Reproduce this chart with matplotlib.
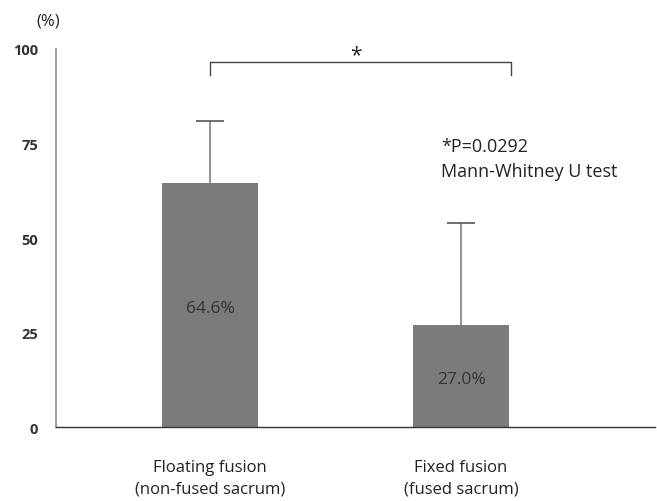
import numpy as np
import matplotlib.pyplot as plt

categories = ['Floating fusion\n(non-fused sacrum)', 'Fixed fusion\n(fused sacrum)']
means = [64.6, 27.0]
upper_sd = [16.4, 27.0]
bar_labels = ['64.6%', '27.0%']
yticks = [0, 25, 50, 75, 100]

plt.rcParams['font.family'] = ['Open Sans', 'DejaVu Sans']

fig = plt.figure(figsize=(6.57, 5.02), dpi=100)
ax = fig.add_axes([0.0852, 0.1474, 0.912, 0.7530])

x = np.arange(len(categories))
tops = np.array(means) + np.array(upper_sd)
ax.bar(x, means, width=0.38, color='#7b7b7d', zorder=2)
# upper-only error bars
ax.vlines(x, means, tops, color='#7f7f7f', lw=1.2, zorder=1)
ax.hlines(tops, x - 0.055, x + 0.055, color='#555555', lw=1.2, zorder=1)

for xi, m, lab in zip(x, means, bar_labels):
    ax.text(xi, m / 2 - 0.8, lab, ha='center', va='center', fontsize=12.5, color='#333333')

# significance bracket
ax.plot([0, 0, 1.2, 1.2], [93.2, 96.6, 96.6, 93.2], color='#444444', lw=1)
ax.text(0.58, 95.6, '*', ha='center', va='bottom', fontsize=15, color='#222222')
ax.text(0.92, 71.0, '*P=0.0292\nMann-Whitney U test', ha='left', va='center',
        fontsize=13, color='#222222', linespacing=1.45)

ax.set_xlim(-0.6135, 1.773)
ax.set_ylim(0, 100)
ax.set_yticks(yticks)
ax.set_yticklabels([str(t) for t in yticks], fontweight='bold', fontsize=10.5, color='#333333')
ax.set_xticks(x)
ax.set_xticklabels(categories, fontsize=12, color='#222222', linespacing=1.45)
ax.tick_params(axis='y', length=0, pad=13)
ax.tick_params(axis='x', length=0, pad=23)
ax.spines['top'].set_visible(False)
ax.spines['right'].set_visible(False)
ax.spines['left'].set_color('#a0a0a0')
ax.spines['left'].set_linewidth(1.5)
ax.spines['bottom'].set_color('#333333')
ax.spines['bottom'].set_linewidth(1)

fig.text(48 / 657, 1 - 21 / 502, '(%)', ha='center', va='center', fontsize=12, color='#222222')

plt.savefig('out.png', dpi=100)
